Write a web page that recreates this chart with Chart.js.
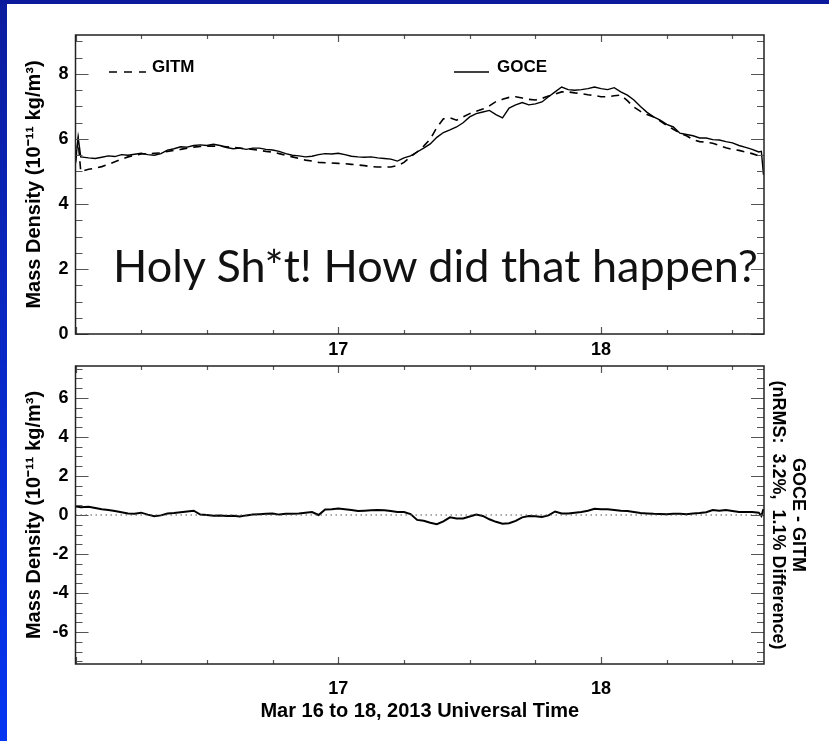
<!DOCTYPE html>
<html>
<head>
<meta charset="utf-8">
<script src="https://cdn.jsdelivr.net/npm/chart.js@4.4.0/dist/chart.umd.min.js"></script>
<style>
  html, body { margin: 0; padding: 0; background: #fff; }
  #page { position: relative; width: 829px; height: 741px; overflow: hidden; background: #fff; }
  .bar-left { position: absolute; left: 0; top: 0; width: 7px; height: 741px; background: linear-gradient(#0c1c9e, #0536f2); }
  .bar-top { position: absolute; left: 0; top: 0; width: 829px; height: 4px; background: #0b1a9c; }
  canvas { position: absolute; left: 0; }
  #topChart { top: 0; }
  #bottomChart { top: 340px; }
  .legend { position: absolute; font: bold 17px "Liberation Sans", Arial, sans-serif; line-height: 17px; color: #000; }
  svg.sample { position: absolute; }
  #wow { position: absolute; left: 113px; top: 243px; font: 45px Lato, "Open Sans", sans-serif; line-height: 45px; color: #111; white-space: nowrap; }
</style>
</head>
<body>
<div id="page">
  <div class="bar-left"></div>
  <div class="bar-top"></div>
  <canvas id="topChart" width="829" height="365"></canvas>
  <canvas id="bottomChart" width="829" height="401"></canvas>

  <svg class="sample" style="left:108px;top:68px" width="40" height="8"><line x1="1" y1="4" x2="38" y2="4" stroke="#000" stroke-width="1.6" stroke-dasharray="8,7"/></svg>
  <div class="legend" style="left:152px;top:58px">GITM</div>
  <svg class="sample" style="left:453px;top:68px" width="40" height="8"><line x1="1" y1="4" x2="36" y2="4" stroke="#000" stroke-width="1.6"/></svg>
  <div class="legend" style="left:497px;top:58px">GOCE</div>

  <div id="wow">Holy Sh*t! How did that happen?</div>
</div>

<script>
// time in days of March 2013
const times = [
  16.000, 16.010, 16.020,
  16.050, 16.075, 16.100, 16.125, 16.150, 16.175, 16.200, 16.225, 16.250, 16.275,
  16.300, 16.325, 16.350, 16.375, 16.400, 16.425, 16.450, 16.475, 16.500, 16.525,
  16.550, 16.575, 16.600, 16.625, 16.650, 16.675, 16.700, 16.725, 16.750, 16.775,
  16.800, 16.825, 16.850, 16.875, 16.900, 16.925, 16.950, 16.975, 17.000, 17.025,
  17.050, 17.075, 17.100, 17.125, 17.150, 17.175, 17.200, 17.225, 17.250, 17.275,
  17.300, 17.325, 17.350, 17.375, 17.400, 17.425, 17.450, 17.475, 17.500, 17.525,
  17.550, 17.575, 17.600, 17.625, 17.650, 17.675, 17.700, 17.725, 17.750, 17.775,
  17.800, 17.825, 17.850, 17.875, 17.900, 17.925, 17.950, 17.975, 18.000, 18.025,
  18.050, 18.075, 18.100, 18.125, 18.150, 18.175, 18.200, 18.225, 18.250, 18.275,
  18.300, 18.325, 18.350, 18.375, 18.400, 18.425, 18.450, 18.475, 18.500, 18.525,
  18.550, 18.575, 18.600,
  18.610, 18.618
];

// GOCE mass density (1e-11 kg/m3)
const goce = [
  5.25, 6.06, 5.45,
  5.42, 5.40, 5.44, 5.48, 5.46, 5.52, 5.50, 5.53, 5.56, 5.52,
  5.50, 5.55, 5.66, 5.70, 5.76, 5.75, 5.80, 5.82, 5.80, 5.84,
  5.80, 5.74, 5.70, 5.72, 5.68, 5.72, 5.72, 5.68, 5.66, 5.62,
  5.55, 5.50, 5.48, 5.45, 5.47, 5.52, 5.55, 5.54, 5.56, 5.52,
  5.47, 5.45, 5.44, 5.45, 5.42, 5.40, 5.38, 5.32, 5.42, 5.48,
  5.60, 5.72, 5.85, 6.05, 6.20, 6.28, 6.37, 6.50, 6.68, 6.78,
  6.83, 6.88, 6.75, 6.65, 6.95, 7.05, 7.12, 7.05, 7.08, 7.14,
  7.30, 7.45, 7.60, 7.52, 7.50, 7.52, 7.55, 7.60, 7.55, 7.52,
  7.58, 7.45, 7.35, 7.20, 7.00, 6.82, 6.68, 6.58, 6.45, 6.37,
  6.18, 6.14, 6.10, 6.03, 6.03, 5.98, 5.97, 5.92, 5.88, 5.80,
  5.74, 5.68, 5.60,
  5.62, 4.90
];

// GITM mass density (1e-11 kg/m3)
const gitm = [
  5.30, 5.95, 5.00,
  5.07, 5.10, 5.15, 5.22, 5.30, 5.38, 5.45, 5.50, 5.54, 5.55,
  5.56, 5.57, 5.62, 5.65, 5.68, 5.72, 5.75, 5.77, 5.78, 5.78,
  5.78, 5.76, 5.74, 5.72, 5.70, 5.68, 5.65, 5.62, 5.60, 5.55,
  5.50, 5.45, 5.40, 5.35, 5.32, 5.28, 5.27, 5.26, 5.25, 5.24,
  5.22, 5.20, 5.18, 5.15, 5.14, 5.14, 5.14, 5.18, 5.28, 5.45,
  5.60, 5.78, 6.00, 6.35, 6.62, 6.65, 6.58, 6.68, 6.78, 6.85,
  6.92, 7.02, 7.15, 7.22, 7.28, 7.30, 7.26, 7.22, 7.20, 7.25,
  7.32, 7.38, 7.45, 7.45, 7.42, 7.40, 7.36, 7.34, 7.30, 7.30,
  7.33, 7.35, 7.18, 6.98, 6.85, 6.75, 6.68, 6.55, 6.42, 6.30,
  6.18, 6.10, 5.98, 5.92, 5.90, 5.87, 5.80, 5.73, 5.68, 5.65,
  5.60, 5.55, 5.48,
  5.45, 5.45
];

// GOCE - GITM difference
const diff = [
  0.44, 0.42, 0.40,
  0.42, 0.36, 0.30, 0.26, 0.20, 0.14, 0.08, 0.06, 0.12, 0.02,
  -0.06, -0.02, 0.08, 0.10, 0.14, 0.18, 0.22, 0.02, 0.00, -0.04,
  -0.03, -0.05, -0.04, -0.08, -0.02, 0.02, 0.04, 0.06, 0.08, 0.02,
  0.06, 0.07, 0.08, 0.12, 0.15, 0.00, 0.28, 0.30, 0.33, 0.30,
  0.26, 0.20, 0.22, 0.24, 0.26, 0.24, 0.20, 0.16, 0.15, 0.05,
  -0.25, -0.30, -0.40, -0.47, -0.33, -0.12, -0.18, -0.18, -0.08, 0.02,
  -0.05, -0.22, -0.35, -0.45, -0.42, -0.30, -0.12, -0.05, -0.06, -0.10,
  -0.02, 0.18, 0.08, 0.08, 0.12, 0.15, 0.22, 0.32, 0.30, 0.30,
  0.26, 0.22, 0.20, 0.15, 0.10, 0.08, 0.06, 0.05, 0.04, 0.06,
  0.07, 0.04, 0.08, 0.10, 0.14, 0.25, 0.22, 0.25, 0.20, 0.15,
  0.16, 0.15, 0.12,
  -0.05, 0.30
];

const zeroLine = [0, 0];
const xTicks = [17, 18];
const yTicksTop = [0, 2, 4, 6, 8];
const yTicksBottom = [-6, -4, -2, 0, 2, 4, 6];
const xRange = [16.0, 18.62];
const yRangeTop = [0, 9.2];
const yRangeBottom = [-7.64, 7.64];

const FONT = "'Liberation Sans', Arial, sans-serif";
Chart.defaults.font.family = FONT;
Chart.defaults.color = '#000';

function pts(vals) {
  return vals.map((v, i) => ({ x: times[i], y: v }));
}

// box around plot area with IDL style ticks pointing inwards
const framePlugin = {
  id: 'frame',
  afterDatasetsDraw(chart) {
    const { ctx, chartArea: a } = chart;
    const xs = chart.scales.x, ys = chart.scales.y;
    ctx.save();
    ctx.strokeStyle = '#555';
    ctx.lineWidth = 1.2;
    ctx.beginPath();
    for (let k = Math.ceil(xs.min / 0.25); k * 0.25 <= xs.max + 1e-9; k++) {
      const px = Math.round(xs.getPixelForValue(k * 0.25)) + 0.5;
      const len = (k % 4 === 0) ? 7 : 4;
      ctx.moveTo(px, a.bottom); ctx.lineTo(px, a.bottom - len);
      ctx.moveTo(px, a.top); ctx.lineTo(px, a.top + len);
    }
    for (let k = Math.ceil(ys.min / 0.5); k * 0.5 <= ys.max + 1e-9; k++) {
      const py = Math.round(ys.getPixelForValue(k * 0.5)) + 0.5;
      const len = (k % 4 === 0) ? 13 : 7;
      ctx.moveTo(a.left, py); ctx.lineTo(a.left + len, py);
      ctx.moveTo(a.right, py); ctx.lineTo(a.right - len, py);
    }
    ctx.stroke();
    ctx.strokeStyle = '#222';
    ctx.lineWidth = 1.5;
    ctx.strokeRect(a.left, a.top, a.right - a.left, a.bottom - a.top);
    ctx.restore();
  }
};

const tickFont = { size: 18, weight: 'bold', family: FONT };

function xScale(height, pad) {
  return {
    type: 'linear',
    min: xRange[0],
    max: xRange[1],
    grid: { display: false, drawTicks: false },
    border: { display: false },
    ticks: { font: tickFont, padding: pad, maxRotation: 0 },
    afterBuildTicks: s => { s.ticks = xTicks.map(v => ({ value: v })); },
    afterFit: s => { s.height = height; }
  };
}

function yScale(range, ticks) {
  return {
    type: 'linear',
    min: range[0],
    max: range[1],
    grid: { display: false, drawTicks: false },
    border: { display: false },
    ticks: { font: tickFont, padding: 7 },
    afterBuildTicks: s => { s.ticks = ticks.map(v => ({ value: v })); },
    afterFit: s => { s.width = 75.5; },
    title: {
      display: true,
      text: 'Mass Density (10\u207B\u00B9\u00B9 kg/m\u00B3)',
      font: { size: 20, weight: 'bold', family: FONT },
      padding: { top: 22, bottom: 0 }
    }
  };
}

new Chart(document.getElementById('topChart'), {
  type: 'line',
  data: {
    datasets: [
      {
        label: 'GITM',
        data: pts(gitm),
        borderColor: '#000',
        borderWidth: 1.6,
        borderDash: [8, 6],
        pointRadius: 0,
        tension: 0
      },
      {
        label: 'GOCE',
        data: pts(goce),
        borderColor: '#000',
        borderWidth: 1.4,
        pointRadius: 0,
        tension: 0
      }
    ]
  },
  options: {
    responsive: false,
    animation: false,
    devicePixelRatio: 1,
    layout: { padding: { top: 35, right: 65, left: 0, bottom: 0 } },
    plugins: { legend: { display: false }, tooltip: { enabled: false } },
    scales: {
      x: xScale(31, 5),
      y: yScale(yRangeTop, yTicksTop)
    }
  },
  plugins: [framePlugin]
});

const bottomX = xScale(77, 14);
bottomX.title = {
  display: true,
  text: 'Mar 16 to 18, 2013 Universal Time',
  font: { size: 20, weight: 'bold', family: FONT },
  padding: { top: 0, bottom: 18 }
};

new Chart(document.getElementById('bottomChart'), {
  type: 'line',
  data: {
    datasets: [
      {
        label: 'zero',
        data: zeroLine.map((v, i) => ({ x: xRange[i], y: v })),
        borderColor: '#555',
        borderWidth: 1.2,
        borderDash: [1.5, 3.5],
        pointRadius: 0
      },
      {
        label: 'GOCE - GITM',
        data: pts(diff),
        borderColor: '#000',
        borderWidth: 2,
        pointRadius: 0,
        tension: 0
      }
    ]
  },
  options: {
    responsive: false,
    animation: false,
    devicePixelRatio: 1,
    layout: { padding: { top: 26, right: 0, left: 0, bottom: 0 } },
    plugins: { legend: { display: false }, tooltip: { enabled: false } },
    scales: {
      x: bottomX,
      y: yScale(yRangeBottom, yTicksBottom),
      yRight: {
        type: 'linear',
        position: 'right',
        min: yRangeBottom[0],
        max: yRangeBottom[1],
        grid: { display: false, drawTicks: false },
        border: { display: false },
        ticks: { display: false },
        afterFit: s => { s.width = 65; },
        title: {
          display: true,
          text: ['GOCE - GITM', '(nRMS:  3.2%,  1.1% Difference)'],
          font: { size: 18, weight: 'bold', family: FONT, lineHeight: 1.1 },
          padding: { top: 21, bottom: 0 }
        }
      }
    }
  },
  plugins: [framePlugin]
});
</script>
</body>
</html>
